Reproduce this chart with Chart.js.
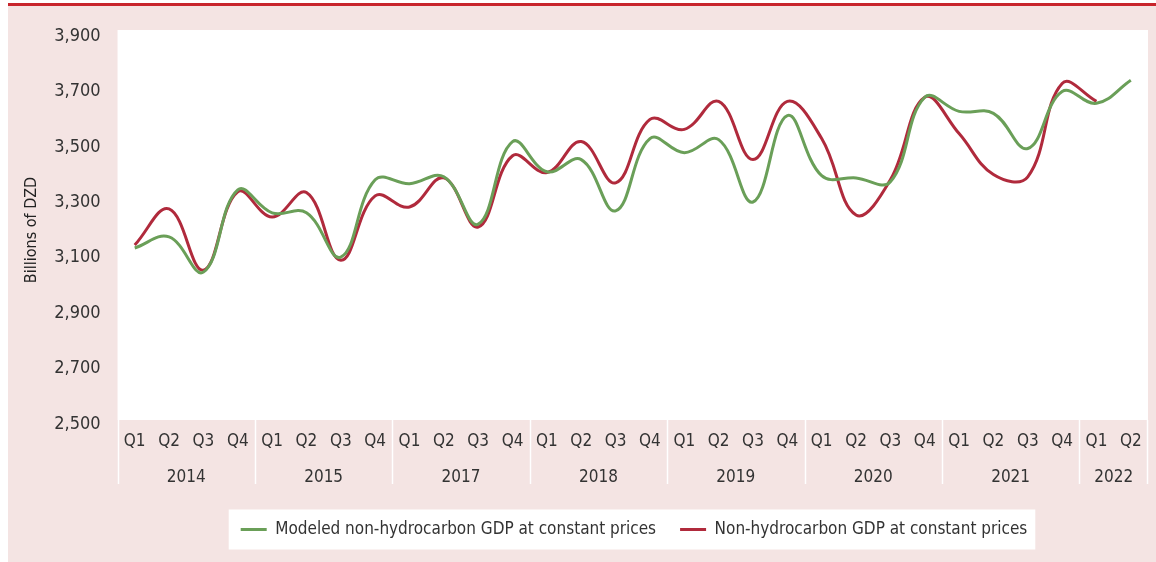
<!DOCTYPE html>
<html>
<head>
<meta charset="utf-8">
<script src="https://cdn.jsdelivr.net/npm/chart.js@4.4.1/dist/chart.umd.min.js"></script>
<style>
  html, body { margin: 0; padding: 0; background: #fff; }
  #wrap {
    position: absolute; left: 8px; top: 3px; width: 1148px; height: 556px;
    border-top: 3px solid #c8252c; background: #f4e4e3;
  }
  canvas { display: block; }
</style>
</head>
<body>
<div id="wrap"><canvas id="gdpChart" width="1148" height="556"></canvas></div>
<script>
// years and quarters (2016 is absent in the source)
var years = ['2014', '2015', '2017', '2018', '2019', '2020', '2021', '2022'];
var quartersPerYear = [4, 4, 4, 4, 4, 4, 4, 2];

var quarters = [];
years.forEach(function(y, i) {
  for (var q = 1; q <= quartersPerYear[i]; q++) quarters.push('Q' + q);
});

var modeled = [3135, 3175, 3048, 3345, 3262, 3262, 3102, 3381, 3367, 3392, 3221, 3519,
  3410, 3454, 3269, 3530, 3479, 3526, 3301, 3613, 3396, 3388, 3374, 3679,
  3628, 3621, 3494, 3700, 3657, 3740];
var actual = [3146, 3276, 3055, 3338, 3247, 3335, 3091, 3323, 3283, 3388, 3211, 3468,
  3407, 3519, 3370, 3599, 3563, 3664, 3454, 3664, 3530, 3254, 3381, 3679,
  3548, 3400, 3392, 3729, 3664, null];

var yTicks = [2500, 2700, 2900, 3100, 3300, 3500, 3700, 3900];

var GREEN = '#6a9f58';
var RED = '#b02a3c';
var TXT = '#333333';
var FONT = "'Liberation Sans Narrow', 'DejaVu Sans Condensed', 'Roboto', sans-serif";

// white plot area + year labels / separators + legend box
var decor = {
  id: 'decor',
  afterLayout: function(chart) {
    // the legend sits right of centre in the source
    chart.legend.left += 56;
    chart.legend.right += 56;
  },
  beforeDraw: function(chart) {
    var c = chart.ctx, a = chart.chartArea;
    c.save();
    c.fillStyle = '#ffffff';
    c.fillRect(a.left, a.top - 6, a.right - a.left, a.bottom - a.top + 2);

    var hb = chart.legend.legendHitBoxes;
    if (hb && hb.length) {
      var last = hb[hb.length - 1];
      var l = hb[0].left - 12, r = last.left + last.width + 8;
      var mid = hb[0].top + hb[0].height / 2;
      c.fillRect(l, mid - 20, r - l, 40);
    }
    c.restore();
  },
  afterDraw: function(chart) {
    var c = chart.ctx, a = chart.chartArea, xs = chart.scales.x;
    c.save();
    var half = (xs.getPixelForValue(1) - xs.getPixelForValue(0)) / 2;
    c.strokeStyle = '#ffffff';
    c.lineWidth = 1.5;
    c.fillStyle = TXT;
    c.font = '17px ' + FONT;
    c.textAlign = 'center';
    c.textBaseline = 'middle';
    var start = 0;
    years.forEach(function(y, i) {
      var end = start + quartersPerYear[i] - 1;
      var x0 = xs.getPixelForValue(start) - half;
      var x1 = xs.getPixelForValue(end) + half;
      c.beginPath();
      c.moveTo(Math.round(x0) + 0.5, a.bottom - 4);
      c.lineTo(Math.round(x0) + 0.5, a.bottom + 60);
      c.stroke();
      if (i === years.length - 1) {
        c.beginPath();
        c.moveTo(Math.round(x1) - 0.5, a.bottom - 4);
        c.lineTo(Math.round(x1) - 0.5, a.bottom + 60);
        c.stroke();
      }
      c.fillText(y, (x0 + x1) / 2, a.bottom + 54);
      start = end + 1;
    });
    c.restore();
  }
};

var ctx = document.getElementById('gdpChart').getContext('2d');
var chart = new Chart(ctx, {
  type: 'line',
  data: {
    labels: quarters,
    datasets: [
      {
        label: 'Modeled non-hydrocarbon GDP at constant prices',
        data: modeled,
        borderColor: GREEN,
        backgroundColor: GREEN,
        borderWidth: 3,
        pointRadius: 0,
        tension: 0.4
      },
      {
        label: 'Non-hydrocarbon GDP at constant prices',
        data: actual,
        borderColor: RED,
        backgroundColor: RED,
        borderWidth: 3,
        pointRadius: 0,
        tension: 0.4
      }
    ]
  },
  options: {
    responsive: false,
    animation: false,
    layout: { padding: { top: 30, right: 8, left: 0, bottom: 14 } },
    plugins: {
      tooltip: { enabled: false },
      legend: {
        position: 'bottom',
        labels: {
          color: TXT,
          font: { family: FONT, size: 17 },
          boxWidth: 26,
          boxHeight: 3,
          padding: 24,
          generateLabels: function(chart) {
            return chart.data.datasets.map(function(ds, i) {
              return {
                text: ds.label,
                fillStyle: ds.borderColor,
                strokeStyle: ds.borderColor,
                lineWidth: 0,
                fontColor: TXT,
                datasetIndex: i
              };
            });
          }
        }
      }
    },
    scales: {
      x: {
        offset: true,
        grid: { display: false, offset: true },
        border: { display: false },
        ticks: { color: TXT, font: { family: FONT, size: 17 }, padding: -1, maxRotation: 0, autoSkip: false },
        afterFit: function(scale) { scale.height = 73; }
      },
      y: {
        min: 2500,
        max: 3900,
        afterBuildTicks: function(scale) {
          scale.ticks = yTicks.map(function(v) { return { value: v }; });
        },
        grid: { display: false },
        border: { display: false },
        ticks: {
          color: TXT,
          font: { family: FONT, size: 18 },
          padding: 9,
          callback: function(v) { return v.toLocaleString('en-US'); }
        },
        title: {
          display: true,
          text: 'Billions of DZD',
          color: '#222222',
          font: { family: FONT, size: 16 },
          padding: { top: 14, bottom: 4 }
        }
      }
    }
  },
  plugins: [decor]
});
</script>
</body>
</html>
